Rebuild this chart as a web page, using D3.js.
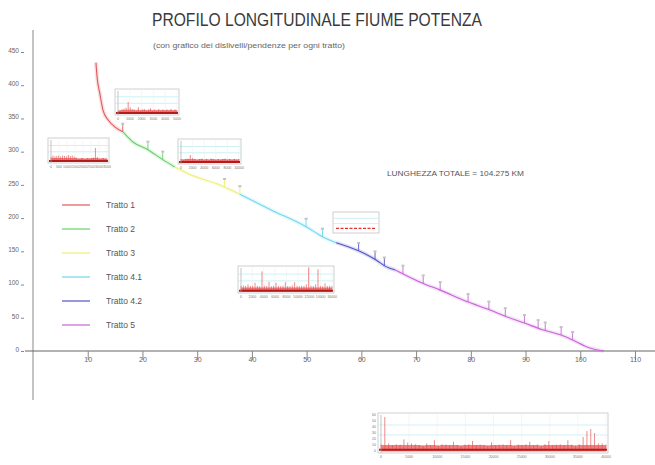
<!DOCTYPE html>
<html>
<head>
<meta charset="utf-8">
<script src="https://cdn.jsdelivr.net/npm/d3@7"></script>
<style>
  body { margin: 0; background: #fff; }
  svg { display: block; font-family: "Liberation Sans Narrow", "Liberation Sans", Arial, sans-serif; }
</style>
</head>
<body>
<div id="chart"></div>
<script>
// profile of the river: distance (km) and elevation (m)
const profileKm = [11.5, 11.7, 12.2, 12.8, 13.7, 15.0, 16.4, 18.2, 21.0, 23.7, 25.9, 28.6, 34.7, 37.8,
    43.6, 49.9, 52.9, 55.4, 59.7, 62.7, 64.5, 66.2, 71.2, 74.3, 79.4, 83.4, 86.4, 89.8, 93.1,
    96.5, 98.5, 101.6, 104.275];
const profileElev = [434, 413, 388, 362, 348, 337, 330, 315, 303, 288, 277, 266, 248, 236,
    212, 187, 172, 163, 150, 137, 127, 122, 102, 92, 74, 62, 52, 42, 32,
    24, 17, 5, 0];

const trattoNames = ["Tratto 1", "Tratto 2", "Tratto 3", "Tratto 4.1", "Tratto 4.2", "Tratto 5"];
const trattoEndKm = [16.4, 25.9, 37.8, 55.4, 66.2, 104.275];
const trattoColors = ["#e05a5a", "#66d066", "#eeee78", "#70d8ee", "#5252c4", "#c864d8"];

// small markers (weirs) along the profile
const markerKm = [16.4, 21.0, 23.7, 35.0, 37.8, 49.9, 52.9, 59.5, 62.5, 64.2, 67.6, 71.3,
    74.4, 79.5, 83.3, 86.3, 89.8, 92.3, 93.6, 96.5, 98.6];

const xTicks = [10, 20, 30, 40, 50, 60, 70, 80, 90, 100, 110];
const yTicks = [0, 50, 100, 150, 200, 250, 300, 350, 400, 450];

// inset charts: slope per segment (relative heights)
const insetA = [0.16, 0.18, 0.2, 0.24, 0.28, 0.5, 0.3, 0.22, 0.2, 0.18, 0.3, 0.18, 0.2, 0.22,
    0.18, 0.2, 0.26, 0.18, 0.2, 0.18, 0.22, 0.18, 0.2, 0.18, 0.2, 0.18, 0.22, 0.18, 0.2, 0.18];
const insetB = [0.24, 0.3, 0.26, 0.28, 0.3, 0.26, 0.3, 0.28, 0.26, 0.32, 0.28, 0.3, 0.26, 0.22, 0.18,
    0.18, 0.2, 0.18, 0.18, 0.2, 0.18, 0.2, 0.22, 0.6, 0.24, 0.18, 0.18, 0.2, 0.18, 0.18];
const insetC = [0.2, 0.18, 0.2, 0.22, 0.36, 0.24, 0.2, 0.18, 0.2, 0.22, 0.18, 0.2, 0.18,
    0.22, 0.2, 0.18, 0.2, 0.18, 0.2, 0.22, 0.18, 0.2, 0.18, 0.2, 0.18, 0.2];
const insetD = [0.22, 0.22, 0.22, 0.22, 0.22, 0.22, 0.22, 0.22, 0.22, 0.22, 0.22, 0.22];
const insetE = [0.26, 0.28, 0.26, 0.32, 0.26, 0.27, 0.38, 0.26, 0.25, 0.8, 0.27, 0.26, 0.42, 0.25,
    0.27, 0.38, 0.26, 0.25, 0.27, 0.4, 0.26, 0.25, 0.28, 0.4, 0.26, 0.25, 0.27, 0.26, 0.32,
    0.95, 0.27, 0.26, 0.32, 0.88, 0.26, 0.25, 0.36, 0.26, 0.27, 0.25];
const insetF = [0.22, 0.9, 0.24, 0.2, 0.22, 0.21, 0.34, 0.26, 0.24, 0.22, 0.2, 0.19, 0.24, 0.2,
    0.32, 0.19, 0.22, 0.21, 0.2, 0.28, 0.2, 0.19, 0.21, 0.22, 0.3, 0.2, 0.21, 0.2, 0.19, 0.27,
    0.2, 0.21, 0.22, 0.2, 0.32, 0.19, 0.21, 0.2, 0.22, 0.28, 0.2, 0.21, 0.19, 0.22, 0.3, 0.2,
    0.21, 0.22, 0.2, 0.32, 0.21, 0.19, 0.22, 0.4, 0.55, 0.6, 0.5, 0.24, 0.24, 0.21];

const insetALabels = ["0", "1000", "2000", "3000", "4000", "5000"];
const insetBLabels = ["0", "500", "1000", "1500", "2000", "2500", "3000", "3500"];
const insetCLabels = ["0", "2000", "4000", "6000", "8000", "10000"];
const insetELabels = ["0", "2000", "4000", "6000", "8000", "10000", "12000", "14000", "16000"];
const insetFLabels = ["0", "5000", "10000", "15000", "20000", "25000", "30000", "35000", "40000"];
const insetFYLabels = ["60", "50", "40", "30", "20", "10", "0"];

const W = 655, H = 465;
const svg = d3.select("#chart").append("svg")
    .attr("width", W)
    .attr("height", H);

const x = d3.scaleLinear().domain([0, 110]).range([33, 635]);
const y = d3.scaleLinear().domain([0, 450]).range([351, 52]);

// titles
svg.append("text")
    .attr("x", 152).attr("y", 26)
    .attr("textLength", 330).attr("lengthAdjust", "spacingAndGlyphs")
    .attr("font-size", 18).attr("fill", "#3a3a3a")
    .text("PROFILO LONGITUDINALE FIUME POTENZA");

svg.append("text")
    .attr("x", 153).attr("y", 48)
    .attr("textLength", 192).attr("lengthAdjust", "spacingAndGlyphs")
    .attr("font-size", 6.5).attr("fill", "#666")
    .text("(con grafico dei dislivelli/pendenze per ogni tratto)");

svg.append("text")
    .attr("x", 387).attr("y", 176)
    .attr("textLength", 137).attr("lengthAdjust", "spacingAndGlyphs")
    .attr("font-size", 8).attr("fill", "#555")
    .text("LUNGHEZZA TOTALE = 104.275 KM");

// axes
svg.append("line")
    .attr("x1", x(0)).attr("x2", x(0)).attr("y1", 30).attr("y2", 400)
    .attr("stroke", "#888").attr("stroke-width", 1);
svg.append("line")
    .attr("x1", 25).attr("x2", 655).attr("y1", y(0)).attr("y2", y(0))
    .attr("stroke", "#666").attr("stroke-width", 1.2);

let yAxis = svg.append("g")
    .attr("transform", "translate(" + (x(0) - 9) + ",0)")
    .call(d3.axisLeft(y).tickValues(yTicks).tickSize(3).tickPadding(2));
yAxis.select(".domain").remove();
yAxis.selectAll("line").attr("stroke", "#888");
yAxis.selectAll("text").attr("font-size", 6.5).attr("fill", "#666").attr("dy", "0.05em")
    .attr("font-family", "inherit");

let xAxis = svg.append("g")
    .attr("transform", "translate(0," + y(0) + ")")
    .call(d3.axisBottom(x).tickValues(xTicks).tickSize(9).tickPadding(-3));
xAxis.select(".domain").remove();
xAxis.selectAll("line").attr("stroke", "#888");
xAxis.selectAll("text").attr("font-size", 7).attr("fill", "#666").attr("font-family", "inherit");

// profile line, one piece per tratto
let profile = profileKm.map((d, i) => ({km: d, elev: profileElev[i]}));

let line = d3.line()
    .x(d => x(d.km))
    .y(d => y(d.elev))
    .curve(d3.curveMonotoneX);

trattoNames.forEach((name, i) => {
    let start = i === 0 ? profileKm[0] : trattoEndKm[i - 1];
    let pts = profile.filter(d => d.km >= start && d.km <= trattoEndKm[i]);
    // soft halo
    svg.append("path").datum(pts)
        .attr("d", line)
        .attr("fill", "none")
        .attr("stroke", trattoColors[i])
        .attr("stroke-opacity", 0.18)
        .attr("stroke-width", 4);
    svg.append("path").datum(pts)
        .attr("d", line)
        .attr("fill", "none")
        .attr("stroke", trattoColors[i])
        .attr("stroke-width", 1.1);
});

// markers
let bis = d3.bisector(d => d.km).left;
function elevAt(km) {
    let i = Math.max(1, Math.min(profile.length - 1, bis(profile, km)));
    let a = profile[i - 1], b = profile[i];
    return a.elev + (b.elev - a.elev) * (km - a.km) / (b.km - a.km);
}
function colorAt(km) {
    let i = trattoEndKm.findIndex(e => km <= e);
    return trattoColors[i < 0 ? trattoColors.length - 1 : i];
}
markerKm.forEach(km => {
    let mx = x(km), my = y(elevAt(km));
    svg.append("line")
        .attr("x1", mx).attr("x2", mx).attr("y1", my).attr("y2", my - 7)
        .attr("stroke", colorAt(km)).attr("stroke-width", 0.9);
    svg.append("rect")
        .attr("x", mx - 1.5).attr("y", my - 9).attr("width", 3).attr("height", 2)
        .attr("fill", "#999").attr("opacity", 0.6);
});

// legend
trattoNames.forEach((name, i) => {
    let ly = 205 + i * 24;
    svg.append("line")
        .attr("x1", 62).attr("x2", 90).attr("y1", ly).attr("y2", ly)
        .attr("stroke", trattoColors[i]).attr("stroke-width", 1.2);
    svg.append("text")
        .attr("x", 106).attr("y", ly + 3)
        .attr("font-size", 8.5).attr("fill", "#555")
        .text(name);
});

// inset charts
function drawInset(box, values, xLabels, yLabels, dashed) {
    let g = svg.append("g");
    let ix = d3.scaleLinear().domain([0, values.length - 1]).range([box.x + 3, box.x + box.w - 2]);
    let iy = d3.scaleLinear().domain([0, 1]).range([box.y + box.h, box.y]);

    g.append("rect")
        .attr("x", box.x).attr("y", box.y).attr("width", box.w).attr("height", box.h)
        .attr("fill", "#fff").attr("stroke", "#c4c4c4").attr("stroke-width", 0.8);

    [0.45, 0.7].forEach(v => {
        g.append("line")
            .attr("x1", box.x).attr("x2", box.x + box.w).attr("y1", iy(v)).attr("y2", iy(v))
            .attr("stroke", "#b8ecf2").attr("stroke-width", 0.7);
    });

    if (dashed) {
        g.append("line")
            .attr("x1", box.x + 3).attr("x2", box.x + box.w - 3)
            .attr("y1", iy(values[0])).attr("y2", iy(values[0]))
            .attr("stroke", "#e03030").attr("stroke-width", 1.2)
            .attr("stroke-dasharray", "3,1.5");
        return;
    }

    let lx = d3.scaleLinear().domain([0, xLabels.length - 1]).range([box.x + 3, box.x + box.w - 2]);
    xLabels.forEach((t, i) => {
        g.append("line")
            .attr("x1", lx(i)).attr("x2", lx(i)).attr("y1", box.y).attr("y2", box.y + box.h)
            .attr("stroke", "#f0f0f0").attr("stroke-width", 0.6);
    });

    // low band
    g.append("path").datum(values)
        .attr("d", d3.area()
            .x((d, i) => ix(i))
            .y0(iy(0.04))
            .y1(d => iy(Math.min(d, 0.2)))
            .curve(d3.curveStep))
        .attr("fill", "#e84a4a").attr("fill-opacity", 0.7);

    // thin spikes
    g.selectAll(".spike")
        .data(values)
        .enter().append("line")
        .attr("class", "spike")
        .attr("x1", (d, i) => ix(i)).attr("x2", (d, i) => ix(i))
        .attr("y1", iy(0.1)).attr("y2", d => iy(d))
        .attr("stroke", "#e65050").attr("stroke-opacity", 0.75).attr("stroke-width", 0.9);

    g.append("line")
        .attr("x1", box.x + 1).attr("x2", box.x + box.w - 1)
        .attr("y1", iy(0.08)).attr("y2", iy(0.08))
        .attr("stroke", "#b41c1c").attr("stroke-width", 2);

    g.append("line")
        .attr("x1", box.x + 3).attr("x2", box.x + 3).attr("y1", box.y + 2).attr("y2", box.y + box.h)
        .attr("stroke", "#aaa").attr("stroke-width", 0.6);

    xLabels.forEach((t, i) => {
        g.append("text")
            .attr("x", lx(i)).attr("y", box.y + box.h + 5)
            .attr("text-anchor", "middle")
            .attr("font-size", 3.5).attr("fill", "#777")
            .text(t);
    });

    if (yLabels) {
        let ly = d3.scaleLinear().domain([0, yLabels.length - 1]).range([box.y + 1, box.y + box.h - 3]);
        yLabels.forEach((t, i) => {
            g.append("text")
                .attr("x", box.x - 2).attr("y", ly(i) + 1.5)
                .attr("text-anchor", "end")
                .attr("font-size", 3.5).attr("fill", "#777")
                .text(t);
        });
    }
}

drawInset({x: 115, y: 89, w: 64, h: 26}, insetA, insetALabels);
drawInset({x: 48, y: 138, w: 61, h: 25}, insetB, insetBLabels);
drawInset({x: 178, y: 139, w: 63, h: 25}, insetC, insetCLabels);
drawInset({x: 333, y: 212, w: 46, h: 21}, insetD, null, null, true);
drawInset({x: 238, y: 266, w: 96, h: 27}, insetE, insetELabels);
drawInset({x: 378, y: 413, w: 230, h: 40}, insetF, insetFLabels, insetFYLabels);
</script>
</body>
</html>
